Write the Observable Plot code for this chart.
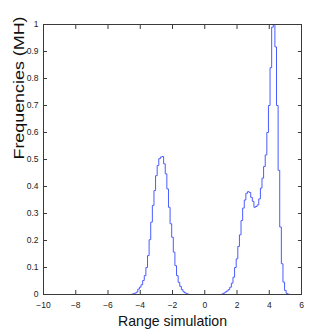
<!DOCTYPE html>
<html>
<head>
<meta charset="utf-8">
<script src="https://cdn.jsdelivr.net/npm/d3@7"></script>
<script src="https://cdn.jsdelivr.net/npm/@observablehq/plot@0.6"></script>
<style>
  html, body { margin: 0; padding: 0; background: #fff; }
  #chart { width: 332px; height: 332px; }
</style>
</head>
<body>
<div id="chart"></div>
<script>
// ---- data ----
const xTicks = [-10, -8, -6, -4, -2, 0, 2, 4, 6];
const yTicks = [0, 0.1, 0.2, 0.3, 0.4, 0.5, 0.6, 0.7, 0.8, 0.9, 1];
const yTickLabels = ["0", "0.1", "0.2", "0.3", "0.4", "0.5", "0.6", "0.7", "0.8", "0.9", "1"];
const xDomain = [-10, 6];
const yDomain = [0, 1];
const binWidth = 0.1;
const histStart = -10;          // the stairs start on the baseline at x = -10

// left mode (bin centres from -4.5)
const leftFirstCenter = -4.5;
const leftFreq = [0.001, 0.003, 0.005, 0.009, 0.02, 0.027, 0.036, 0.052, 0.07, 0.1,
  0.144, 0.203, 0.268, 0.33, 0.385, 0.44, 0.478, 0.503, 0.509, 0.511,
  0.484, 0.447, 0.391, 0.323, 0.262, 0.212, 0.157, 0.107, 0.07, 0.045,
  0.03, 0.018, 0.01, 0.006, 0.003, 0.001];

// right (bimodal) group (bin centres from 1.1)
const rightFirstCenter = 1.1;
const rightFreq = [0.002, 0.005, 0.009, 0.013, 0.018, 0.027, 0.042, 0.064, 0.1, 0.132,
  0.178, 0.221, 0.274, 0.32, 0.35, 0.375, 0.381, 0.378, 0.36, 0.345,
  0.323, 0.326, 0.332, 0.354, 0.394, 0.431, 0.474, 0.517, 0.6, 0.7,
  0.84, 0.99, 1.0, 0.917, 0.70, 0.46, 0.25, 0.114, 0.046, 0.015,
  0.004, 0.001];

const xLabel = "Range simulation";
const yLabel = "Frequencies (MH)";

// ---- build the stairs path points (bin left edges, step-after) ----
const pts = [{x: histStart, y: 0}];
function addGroup(firstCenter, freqs) {
  freqs.forEach((v, i) => {
    pts.push({x: +(firstCenter + i * binWidth - binWidth / 2).toFixed(3), y: v});
  });
  pts.push({x: +(firstCenter + (freqs.length - 1) * binWidth + binWidth / 2).toFixed(3), y: 0});
}
addGroup(leftFirstCenter, leftFreq);
addGroup(rightFirstCenter, rightFreq);

const lineColor = "#4a5cff";
const axisColor = "#3a3a3a";
const labelMap = new Map(yTicks.map((t, i) => [t, yTickLabels[i]]));

const chart = Plot.plot({
  width: 332,
  height: 332,
  marginLeft: 43,
  marginRight: 31,
  marginTop: 24,
  marginBottom: 38,
  style: {fontFamily: "'Liberation Sans', Arial, sans-serif", fontSize: "8.5px", color: "#222", background: "#fff"},
  x: {domain: xDomain},
  y: {domain: yDomain},
  marks: [
    Plot.line(pts, {x: "x", y: "y", curve: "step-after", stroke: lineColor, strokeWidth: 1}),
    Plot.frame({stroke: axisColor, strokeWidth: 1}),
    Plot.axisX({ticks: xTicks, tickSize: -4, tickPadding: 11, stroke: axisColor, label: null, tickFormat: d => d3.format("")(d).replace("-", "\u2212")}),
    Plot.axisX({anchor: "top", ticks: xTicks, tickSize: -4, stroke: axisColor, label: null, tickFormat: () => ""}),
    Plot.axisY({ticks: yTicks, tickSize: -4, tickPadding: 9, stroke: axisColor, label: null, tickFormat: d => labelMap.get(d) ?? String(d)}),
    Plot.axisY({anchor: "right", ticks: yTicks, tickSize: -4, stroke: axisColor, label: null, tickFormat: () => ""}),
    Plot.text([xLabel], {frameAnchor: "bottom", dy: 31, fontSize: 14.5, fill: "#111", className: "xlab"}),
    Plot.text([yLabel], {frameAnchor: "left", rotate: -90, dx: -24, fontSize: 14.5, fill: "#111", className: "ylab"})
  ]
});
document.getElementById("chart").appendChild(chart);

// match the slightly stretched label lengths of the original
d3.select(chart).selectAll(".xlab text").attr("textLength", 109).attr("lengthAdjust", "spacingAndGlyphs");
d3.select(chart).selectAll(".ylab text").attr("textLength", 143).attr("lengthAdjust", "spacingAndGlyphs");
</script>
</body>
</html>
